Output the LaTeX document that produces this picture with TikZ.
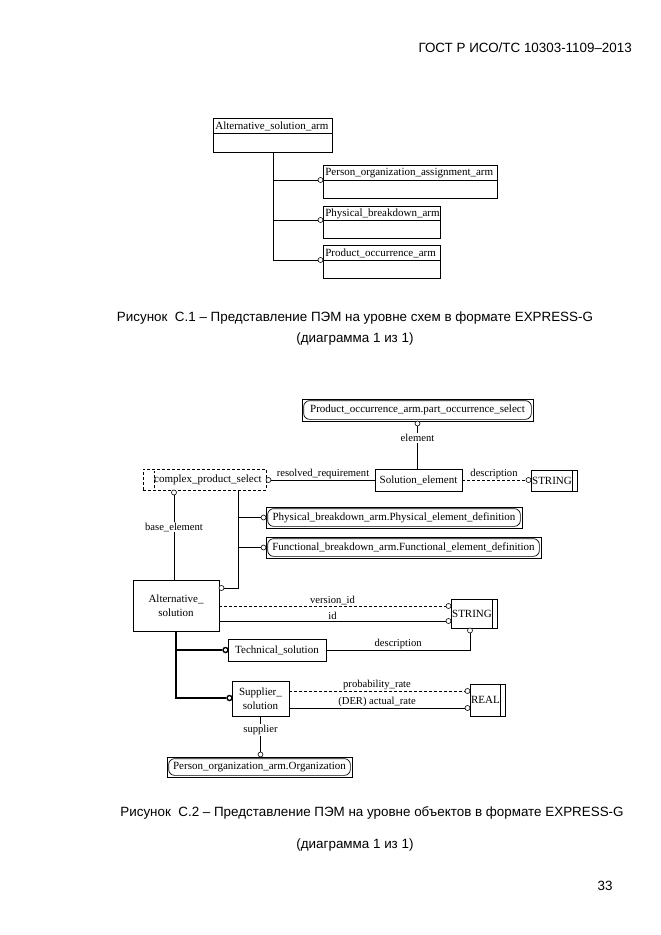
\documentclass[tikz,border=0pt]{standalone}
\usepackage{fontspec}
\setmainfont{Liberation Serif}
\newfontfamily\capfont{Liberation Sans}
\usetikzlibrary{calc}
\begin{document}
\begin{tikzpicture}[x=1pt,y=-1pt,
  ent/.style={draw, line width=0.7pt, inner sep=0pt, font=\fontsize{11}{13.5}\selectfont, align=center},
  lbl/.style={font=\fontsize{10.6}{12}\selectfont, inner sep=1pt},
  oc/.style={circle, draw, fill=white, inner sep=0pt, minimum size=5pt, line width=0.6pt},
  occ/.style={circle, draw, fill=white, inner sep=0pt, minimum size=5pt, line width=1.4pt},
  ln/.style={line width=0.7pt},
  dln/.style={line width=0.7pt, dash pattern=on 3pt off 2pt},
  thk/.style={line width=1.8pt},
  captxt/.style={font=\capfont\fontsize{13.4}{16}\selectfont, inner sep=0pt}
]
\useasboundingbox (0,0) rectangle (661,935);
\fill[white] (0,0) rectangle (661,935);

% header
\node[captxt, anchor=east] (hdr) at (632,48) {ГОСТ Р ИСО/ТС 10303-1109–2013};

% ---------- Figure C.1 ----------
\node[ent, minimum width=119, minimum height=34, anchor=north west] (asa) at (213,118) {};
\node[ent, draw=none, anchor=west] (asat) at ($(asa.north west)+(2,8)$) {Alternative\_solution\_arm};
\draw[ln] ($(asa.north west)+(0,15)$) -- ($(asa.north east)+(0,15)$);

\node[ent, minimum width=174, minimum height=33, anchor=north west] (poa1) at (323,165) {};
\node[ent, draw=none, anchor=west] (poa1t) at ($(poa1.north west)+(2,8)$) {Person\_organization\_assignment\_arm};
\draw[ln] ($(poa1.north west)+(0,15)$) -- ($(poa1.north east)+(0,15)$);

\node[ent, minimum width=117, minimum height=32, anchor=north west] (pba1) at (323,206) {};
\node[ent, draw=none, anchor=west] (pba1t) at ($(pba1.north west)+(2,7.5)$) {Physical\_breakdown\_arm};
\draw[ln] ($(pba1.north west)+(0,14)$) -- ($(pba1.north east)+(0,14)$);

\node[ent, minimum width=117, minimum height=33, anchor=north west] (prd1) at (323,245) {};
\node[ent, draw=none, anchor=west] (prd1t) at ($(prd1.north west)+(2,8)$) {Product\_occurrence\_arm};
\draw[ln] ($(prd1.north west)+(0,15)$) -- ($(prd1.north east)+(0,15)$);

\node[oc] (c11) at (320.5,180) {};
\node[oc] (c12) at (320.5,220) {};
\node[oc] (c13) at (320.5,260) {};
\draw[ln] (asa.south) -- (asa.south|-c13) -- (c13.west);
\draw[ln] (asa.south|-c11) -- (c11.west);
\draw[ln] (asa.south|-c12) -- (c12.west);

\node[captxt] (cap1a) at (355,318) {Рисунок~~С.1 – Представление ПЭМ на уровне схем в формате EXPRESS-G};
\node[captxt] (cap1b) at (355,339) {(диаграмма 1 из 1)};

% ---------- Figure C.2 ----------
% reference boxes
\node[ent, minimum width=231, minimum height=22] (poa) at (417.5,410) {Product\_occurrence\_arm.part\_occurrence\_select};
\draw[ln, rounded corners=6] ($(poa.south west)+(2,-2)$) rectangle ($(poa.north east)+(-2,2)$);

\node[ent, minimum width=256, minimum height=21] (phys) at (394,517.5) {Physical\_breakdown\_arm.Physical\_element\_definition};
\draw[ln, rounded corners=6] ($(phys.south west)+(2,-2)$) rectangle ($(phys.north east)+(-2,2)$);

\node[ent, minimum width=275, minimum height=21] (func) at (403.5,547.5) {Functional\_breakdown\_arm.Functional\_element\_definition};
\draw[ln, rounded corners=6] ($(func.south west)+(2,-2)$) rectangle ($(func.north east)+(-2,2)$);

\node[ent, minimum width=185, minimum height=20] (org) at (259.5,767) {Person\_organization\_arm.Organization};
\draw[ln, rounded corners=6] ($(org.south west)+(2,-2)$) rectangle ($(org.north east)+(-2,2)$);

% entities
\node[ent, minimum width=87, minimum height=22] (sol) at (418.5,480) {Solution\_element};
\node[ent, minimum width=86, minimum height=51] (alt) at (176,605.5) {Alternative\_\\solution};
\node[ent, minimum width=98, minimum height=22] (tech) at (277,650) {Technical\_solution};
\node[ent, minimum width=57, minimum height=35] (sup) at (260.5,698.5) {Supplier\_\\solution};

% simple types
\node[ent, minimum width=46, minimum height=21] (str1) at (554,480.5) {STRING\hspace*{4pt}};
\draw[ln] ($(str1.north east)+(-5,0)$) -- ($(str1.south east)+(-5,0)$);
\node[ent, minimum width=46, minimum height=29] (str2) at (474,613.5) {STRING\hspace*{4pt}};
\draw[ln] ($(str2.north east)+(-5,0)$) -- ($(str2.south east)+(-5,0)$);
\node[ent, minimum width=35, minimum height=32] (real) at (487.5,700) {REAL\hspace*{4pt}};
\draw[ln] ($(real.north east)+(-5,0)$) -- ($(real.south east)+(-5,0)$);

% select type
\node[ent, dash pattern=on 3pt off 2pt, minimum width=123, minimum height=21] (cps) at (204.5,479.5) {};
\node[ent, draw=none] (cpst) at (208,480) {complex\_product\_select};
\draw[dln] ($(cps.south west)+(12,-2)$) -- ($(cps.north west)+(12,2)$);

% circles
\node[oc] (cel) at (417.5,423.5) {};
\node[oc] (crr) at (268.5,480) {};
\node[oc] (cds1) at (528.5,480) {};
\node[oc] (cbe) at (174,492.5) {};
\node[oc] (cph) at (263.5,517.5) {};
\node[oc] (cfu) at (263.5,547.5) {};
\node[oc] (calt) at (221.5,588) {};
\node[oc] (cvid) at (448.5,606) {};
\node[oc] (cid) at (448.5,621) {};
\node[oc] (cds2) at (470,630.5) {};
\node[occ] (ctech) at (225.5,650) {};
\node[occ] (csup) at (229.5,698) {};
\node[oc] (cpr) at (467.5,691) {};
\node[oc] (car) at (467.5,708) {};
\node[oc] (corg) at (260.5,754.5) {};

% connectors
\draw[ln] (cel.south) -- (cel.south|-sol.north) node[lbl, fill=white, pos=0.28] {element};
\draw[ln] (sol.west) -- (crr.east) node[lbl, midway, above] {resolved\_requirement};
\draw[dln] (sol.east) -- (cds1.west) node[lbl, midway, above] {description};
\draw[ln] (cbe.south) -- (cbe.south|-alt.north) node[lbl, fill=white, pos=0.376] {base\_element};

\coordinate (tk) at ($(cps.south)+(33.5,0)$);
\draw[ln] (tk) |- (calt.east);
\draw[ln] (tk|-cph) -- (cph.west);
\draw[ln] (tk|-cfu) -- (cfu.west);

\draw[dln] (alt.east|-cvid) -- (cvid.west) node[lbl, midway, above] {version\_id};
\draw[ln] (alt.east|-cid) -- (cid.west) node[lbl, midway, above] {id};
\draw[ln] (tech.east) -- (cds2|-tech.east) node[lbl, midway, above] {description} -- (cds2.south);

\draw[thk] (alt.south) |- (csup.west);
\draw[thk] (alt.south|-ctech) -- (ctech.west);

\draw[dln] (sup.east|-cpr) -- (cpr.west) node[lbl, midway, above] {probability\_rate};
\draw[ln] (sup.east|-car) -- (car.west) node[lbl, midway, above] {(DER) actual\_rate};
\draw[ln] (sup.south) -- (corg.north) node[lbl, fill=white, pos=0.39] {supplier};

\node[captxt] (cap2a) at (372,813) {Рисунок~~С.2 – Представление ПЭМ на уровне объектов в формате EXPRESS-G};
\node[captxt] (cap2b) at (355,845) {(диаграмма 1 из 1)};

\node[captxt] (pg) at (605,886) {33};
\end{tikzpicture}
\end{document}
